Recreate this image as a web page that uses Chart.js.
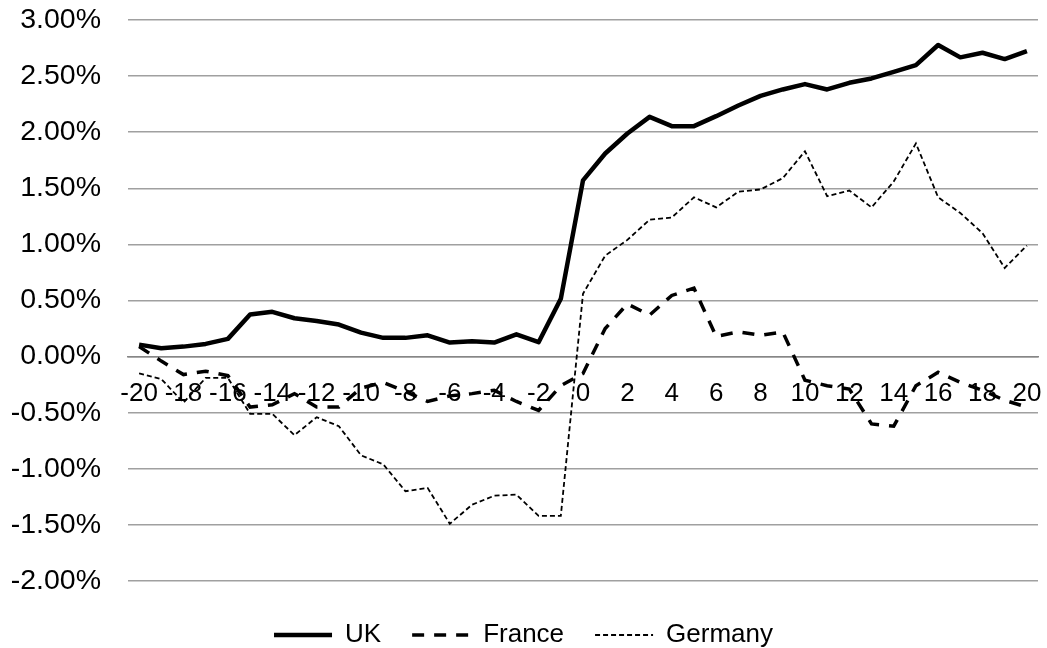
<!DOCTYPE html>
<html>
<head>
<meta charset="utf-8">
<title>UK / France / Germany</title>
<script src="https://cdn.jsdelivr.net/npm/chart.js@4.4.0/dist/chart.umd.min.js"></script>
<style>
  html, body { margin: 0; padding: 0; background: #fff; }
  #wrap { width: 1047px; height: 648px; }
</style>
</head>
<body>
<div id="wrap"><canvas id="c"></canvas></div>
<script>
const days = [];
for (let d = -20; d <= 20; d++) days.push(d);

// values in percent
const uk = [0.107, 0.074, 0.089, 0.113, 0.158, 0.375, 0.399, 0.342, 0.318, 0.286,
            0.214, 0.167, 0.167, 0.190, 0.125, 0.137, 0.125, 0.199, 0.128, 0.515,
            1.571, 1.810, 1.988, 2.137, 2.054, 2.054, 2.143, 2.238, 2.324, 2.381,
            2.429, 2.381, 2.440, 2.479, 2.538, 2.598, 2.777, 2.667, 2.708, 2.652, 2.723];
const france = [0.09, -0.04, -0.16, -0.13, -0.17, -0.45, -0.43, -0.33, -0.45, -0.45,
                -0.28, -0.23, -0.31, -0.40, -0.35, -0.33, -0.30, -0.40, -0.48, -0.26,
                -0.15, 0.25, 0.47, 0.37, 0.545, 0.61, 0.18, 0.22, 0.19, 0.22,
                -0.21, -0.26, -0.29, -0.60, -0.62, -0.26, -0.14, -0.23, -0.30, -0.39, -0.45];
const germany = [-0.15, -0.20, -0.41, -0.19, -0.19, -0.51, -0.51, -0.70, -0.54, -0.62,
                 -0.88, -0.96, -1.20, -1.17, -1.49, -1.32, -1.24, -1.23, -1.42, -1.42,
                 0.56, 0.90, 1.04, 1.22, 1.24, 1.42, 1.33, 1.47, 1.49, 1.59,
                 1.83, 1.43, 1.48, 1.33, 1.56, 1.90, 1.42, 1.28, 1.10, 0.79, 0.99];

const yMin = -2, yMax = 3, yStep = 0.5;

const FONT = 'Liberation Sans, Arial, sans-serif';
const NONE = 'rgba(0,0,0,0)';

new Chart(document.getElementById('c'), {
  type: 'line',
  data: {
    labels: days,
    datasets: [
      { label: 'UK', data: uk, borderColor: '#000', borderWidth: 4.5, borderJoinStyle: 'round' },
      { label: 'France', data: france, borderColor: '#000', borderWidth: 3.5, borderDash: [12, 10] },
      { label: 'Germany', data: germany, borderColor: '#000', borderWidth: 1.8, borderDash: [5, 3] }
    ]
  },
  options: {
    responsive: true,
    maintainAspectRatio: false,
    devicePixelRatio: 1,
    animation: false,
    elements: { point: { radius: 0, hoverRadius: 0 }, line: { tension: 0, fill: false } },
    layout: { padding: { left: 9, right: 9, top: 20, bottom: -10 } },
    plugins: {
      tooltip: { enabled: false },
      legend: {
        position: 'bottom',
        // empty title only pushes the row down a bit
        title: { display: true, text: '', font: { size: 5 }, padding: { top: 2, bottom: 2 } },
        labels: {
          usePointStyle: true,
          pointStyle: 'line',
          pointStyleWidth: 58,
          padding: 31,
          color: '#000',
          font: { family: FONT, size: 26 },
          generateLabels: (chart) =>
            Chart.defaults.plugins.legend.labels.generateLabels(chart).map(item => {
              const ds = chart.data.datasets[item.datasetIndex];
              item.lineDash = ds.borderDash || [];
              item.lineWidth = ds.borderWidth;
              item.strokeStyle = ds.borderColor;
              return item;
            })
        }
      }
    },
    scales: {
      x: {
        type: 'category',
        offset: true,
        position: { y: 0 },
        grid: { color: NONE, tickColor: NONE, drawTicks: true, tickLength: 19 },
        border: { display: true, color: '#868686', width: 1.5 },
        ticks: {
          autoSkip: false,
          maxRotation: 0,
          padding: 3,
          color: '#000',
          font: { family: FONT, size: 26 },
          callback: function (v, i) {
            const d = days[i];
            return d % 2 === 0 ? String(d) : '';
          }
        }
      },
      y: {
        min: yMin,
        max: yMax,
        afterFit: (s) => { s.width = 119; },
        grid: { color: '#a0a0a0', lineWidth: 1.5, drawTicks: true, tickLength: 25, tickColor: NONE },
        border: { display: false },
        ticks: {
          stepSize: yStep,
          padding: 2,
          color: '#000',
          font: { family: FONT, size: 28.5 },
          callback: (v) => v.toFixed(2) + '%'
        }
      }
    }
  }
});
</script>
</body>
</html>
